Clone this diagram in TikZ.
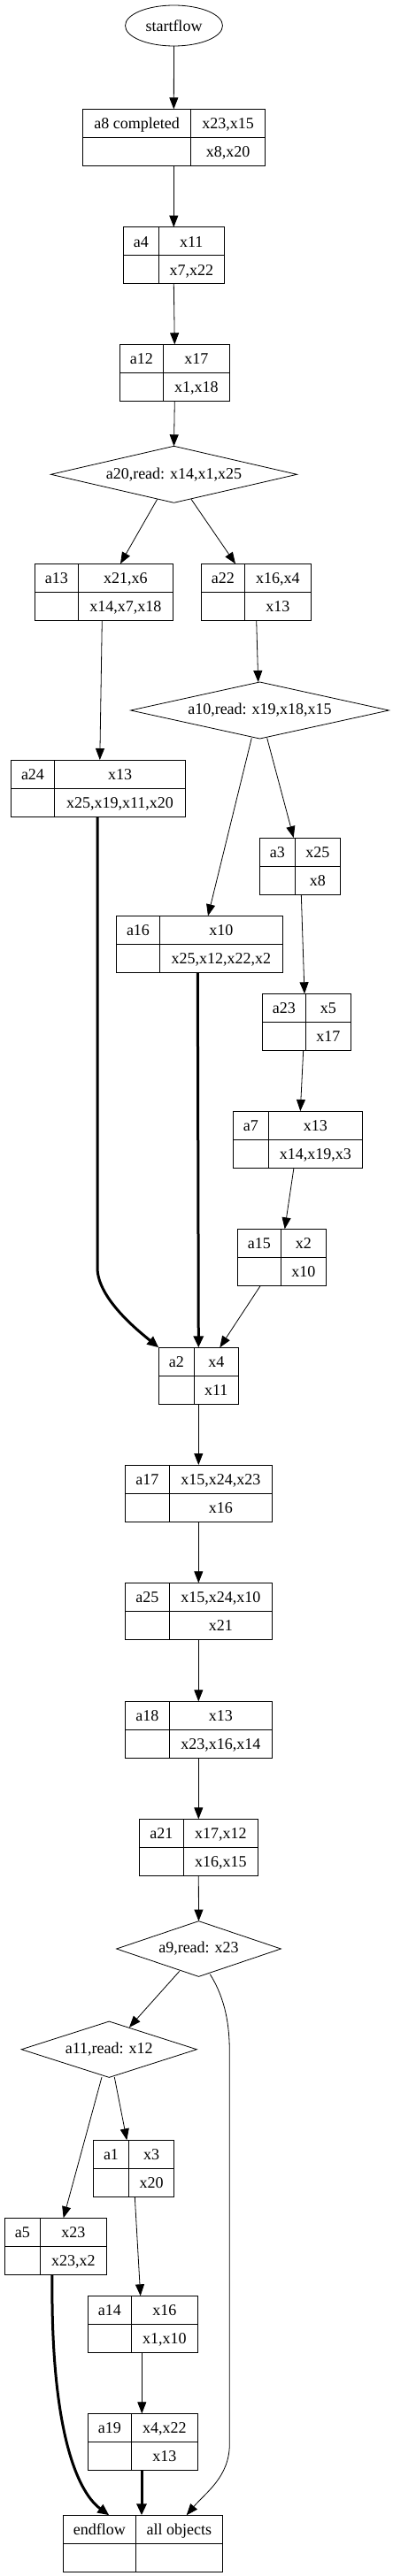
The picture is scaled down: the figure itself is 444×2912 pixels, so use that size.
\documentclass[tikz,border=0pt]{standalone}
\usepackage{fontspec}
\setmainfont{Liberation Serif}
\usetikzlibrary{shapes.geometric,arrows.meta}
\tikzset{
  box/.style={draw, line width=0.8pt, inner sep=0pt, outer sep=0pt},
  cell/.style={line width=0.8pt},
  lbl/.style={font=\fontsize{18}{20}\selectfont, inner sep=0pt, anchor=base},
  dia/.style={draw, diamond, inner sep=0pt, outer sep=0pt, line width=0.8pt, font=\fontsize{18}{20}\selectfont},
  oval/.style={draw, ellipse, inner sep=0pt, outer sep=0pt, line width=0.8pt, font=\fontsize{18}{20}\selectfont},
  flow/.style={-{Triangle[length=13pt,width=10pt]}, line width=0.8pt},
  heavy/.style={-{Triangle[length=13pt,width=11pt]}, line width=3pt},
}
% name, xl, xr, xdiv, ytop, leftlabel, topright, bottomright
\newcommand\recbox[8]{%
  \pgfmathsetmacro\rw{#3-#2}%
  \pgfmathsetmacro\rcx{(#3+#2)/2}%
  \pgfmathsetmacro\rcy{-(#5+32)}%
  \pgfmathsetmacro\rbot{-(#5+64)}%
  \pgfmathsetmacro\lx{(#2+#4)/2}%
  \pgfmathsetmacro\rx{(#4+#3)/2}%
  \pgfmathsetmacro\ya{-(#5+22.5)}%
  \pgfmathsetmacro\yb{-(#5+54.5)}%
  \node[box, minimum width=\rw pt, minimum height=64pt] (#1) at (\rcx,\rcy) {};
  \draw[cell] (#4,-#5) -- (#4,\rbot);
  \draw[cell] (#2,\rcy) -- (#3,\rcy);
  \node[lbl] (#1-l) at (\lx,\ya) {#6};
  \node[lbl] (#1-r) at (\rx,\ya) {#7};
  \node[lbl] (#1-q) at (\rx,\yb) {#8};
}
\begin{document}
\begin{tikzpicture}[x=1pt,y=1pt]
\useasboundingbox (0,0) rectangle (444,-2912);
\node[oval, minimum width=110pt, minimum height=46pt] (startflow) at (196.5,-29) {startflow};
\recbox{a8}{93.3}{299.3}{215.7}{123.3}{a8 completed}{x23,x15}{x8,x20}
\recbox{a4}{139.3}{253.3}{179.3}{256.7}{a4}{x11}{x7,x22}
\recbox{a12}{135.3}{259.3}{184.3}{389.3}{a12}{x17}{x1,x18}
\node[dia, minimum width=278pt, minimum height=64pt, shape aspect=4.34] (a20) at (196.5,-536.3) {a20,read: x14,x1,x25};
\recbox{a13}{39.3}{195.3}{88.3}{637.3}{a13}{x21,x6}{x14,x7,x18}
\recbox{a22}{227.3}{351.3}{276.3}{637.3}{a22}{x16,x4}{x13}
\node[dia, minimum width=291.7pt, minimum height=64pt, shape aspect=4.56] (a10) at (293.5,-803) {a10,read: x19,x18,x15};
\recbox{a24}{12.3}{209.3}{61.7}{859}{a24}{x13}{x25,x19,x11,x20}
\recbox{a3}{293.3}{384.3}{333.3}{947}{a3}{x25}{x8}
\recbox{a16}{131.7}{319.3}{180.3}{1035.3}{a16}{x10}{x25,x12,x22,x2}
\recbox{a23}{296.3}{396.3}{345.3}{1123.3}{a23}{x5}{x17}
\recbox{a7}{263.3}{409.3}{303.3}{1256}{a7}{x13}{x14,x19,x3}
\recbox{a15}{268.3}{368.3}{317.3}{1389.3}{a15}{x2}{x10}
\recbox{a2}{179.3}{269.3}{219.3}{1523.3}{a2}{x4}{x11}
\recbox{a17}{141.3}{307.3}{191.3}{1656}{a17}{x15,x24,x23}{x16}
\recbox{a25}{141.3}{307.3}{191.3}{1789.3}{a25}{x15,x24,x10}{x21}
\recbox{a18}{141.3}{307.3}{191.3}{1923.3}{a18}{x13}{x23,x16,x14}
\recbox{a21}{157.3}{291.3}{207.3}{2056.3}{a21}{x17,x12}{x16,x15}
\node[dia, minimum width=185.7pt, minimum height=62.7pt, shape aspect=2.96] (a9) at (224.5,-2203) {a9,read: x23};
\node[dia, minimum width=198pt, minimum height=63.3pt, shape aspect=3.13] (a11) at (123.3,-2316.7) {a11,read: x12};
\recbox{a1}{105.3}{196.3}{145.7}{2419.3}{a1}{x3}{x20}
\recbox{a5}{5.3}{120.3}{45.3}{2507.3}{a5}{x23}{x23,x2}
\recbox{a14}{99.3}{223.3}{148.3}{2595.3}{a14}{x16}{x1,x10}
\recbox{a19}{99.3}{223.3}{148.3}{2728.3}{a19}{x4,x22}{x13}
\recbox{endflow}{71.3}{251.3}{153.3}{2843.3}{endflow}{all objects}{}
\coordinate (r1) at (259.3,-2320);
\coordinate (r2) at (259.3,-2763);
\coordinate (b1) at (110,-1433);
% connectors
\draw[flow] (startflow.south) -- (a8.north);
\draw[flow] (a8.south) -- (a4.north);
\draw[flow] (a4.south) -- (a12.north);
\draw[flow] (a12.south) -- (a20.north);
\draw[flow] ([shift={(-18.8,4)}]a20.south) -- ([xshift=18.7]a13.north);
\draw[flow] ([shift={(19.5,4)}]a20.south) -- ([xshift=-23.3]a22.north);
\draw[flow] ([xshift=-2]a13.south) -- ([xshift=2]a24.north);
\draw[flow] ([xshift=0.4]a22.south) -- ([xshift=-1.8]a10.north);
\draw[flow] ([shift={(8.2,0.7)}]a10.south) -- ([xshift=-7.1]a3.north);
\draw[flow] ([shift={(-9.2,0.7)}]a10.south) -- ([xshift=9.5]a16.north);
\draw[flow] ([xshift=1.5]a3.south) -- ([xshift=-2.3]a23.north);
\draw[flow] ([xshift=-3.6]a23.south) -- ([xshift=3]a7.north);
\draw[flow] ([xshift=-4.3]a7.south) -- ([xshift=3.4]a15.north);
\draw[flow] ([xshift=-24]a15.south) -- ([xshift=24]a2.north);
\draw[heavy] ([xshift=-2.2]a16.south) -- (a2.north);
\draw[heavy] ([xshift=-0.8]a24.south) -- (b1) .. controls +(0,-35) and +(-22,18) .. (a2.north west);
\draw[flow] (a2.south) -- (a17.north);
\draw[flow] (a17.south) -- (a25.north);
\draw[flow] (a25.south) -- (a18.north);
\draw[flow] (a18.south) -- (a21.north);
\draw[flow] (a21.south) -- (a9.north);
\draw[flow] ([shift={(-21.8,6)}]a9.south) -- ([shift={(22.7,-6.7)}]a11.north);
\draw[flow] ([shift={(12.8,2.6)}]a9.south) .. controls (255,-2260) and (259.3,-2290) .. (r1) -- (r2) .. controls (259.3,-2800) and (232,-2818) .. ([xshift=49.4]endflow.north);
\draw[flow] ([shift={(6,0.3)}]a11.south) -- ([xshift=-7.5]a1.north);
\draw[flow] ([shift={(-8.3,0.3)}]a11.south) -- ([xshift=8.9]a5.north);
\draw[flow] ([xshift=1.5]a1.south) -- ([xshift=-2.6]a14.north);
\draw[flow] ([xshift=-1]a14.south) -- ([xshift=-1]a19.north);
\draw[heavy] ([xshift=-1.3]a19.south) -- ([xshift=-1.3]endflow.north);
\draw[heavy] ([xshift=-3.8]a5.south) .. controls (57,-2740) and (85,-2815) .. ([xshift=-38]endflow.north);
\end{tikzpicture}
\end{document}
